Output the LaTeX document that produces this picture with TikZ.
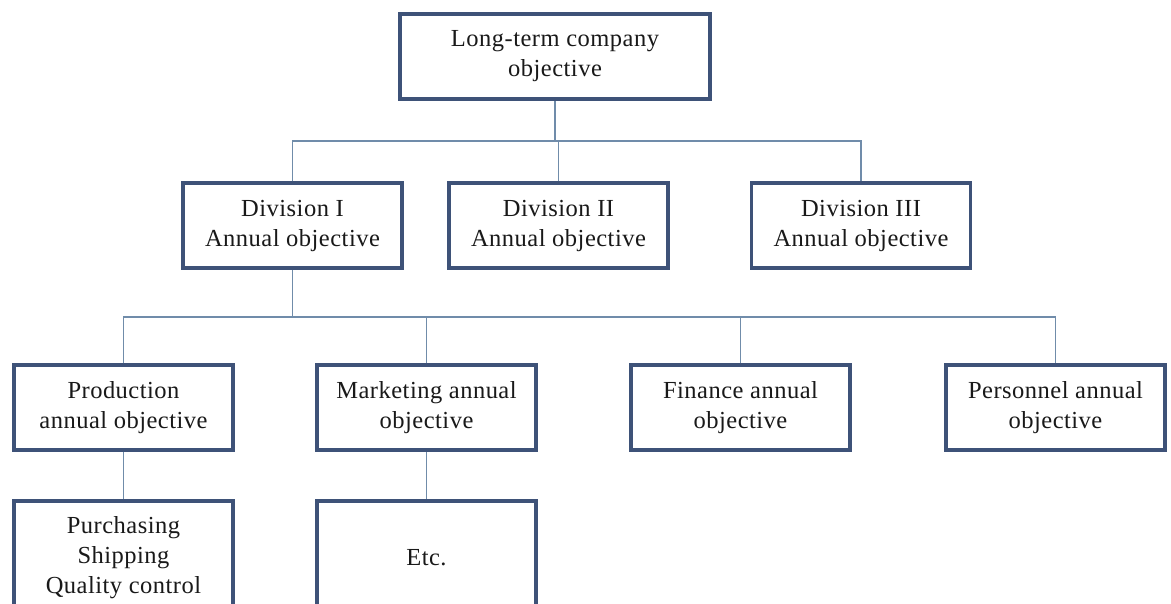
\documentclass[tikz,border=0pt]{standalone}
\usepackage{fontspec}
\setmainfont[LetterSpace=2]{Liberation Serif}
\definecolor{boxline}{RGB}{62,82,120}
\definecolor{linkline}{RGB}{112,140,170}
\definecolor{txt}{RGB}{25,25,25}
\begin{document}
\begin{tikzpicture}[x=1pt,y=-1pt,
  orgbox/.style={draw=boxline, line width=3.5pt, fill=white, text=txt,
    minimum width=219pt, minimum height=85pt, inner sep=0pt, align=center,
    font=\fontsize{24.5}{30}\selectfont},
  link/.style={draw=linkline, line width=1.8pt}]
  \useasboundingbox (0,0) rectangle (1171,603);
  \clip (0,0) rectangle (1171,603);
  \fill[white] (0,0) rectangle (1171,603);

  % top level
  \node[orgbox, minimum width=310pt] (top) at (555,56.5) {Long-term company\\objective};

  % divisions
  \node[orgbox] (d1) at (292.5,225.5) {Division I\\Annual objective};
  \node[orgbox] (d2) at (558.5,225.5) {Division II\\Annual objective};
  \node[orgbox] (d3) at (861,225.5) {Division III\\Annual objective};

  % functional objectives of division I
  \node[orgbox] (prod) at (123.5,407.5) {Production\\annual objective};
  \node[orgbox] (mkt) at (426.5,407.5) {Marketing annual\\objective};
  \node[orgbox] (fin) at (740.5,407.5) {Finance annual\\objective};
  \node[orgbox] (pers) at (1055.5,407.5) {Personnel annual\\objective};

  % departments
  \node[orgbox, minimum height=114pt] (dept) at (123.5,558) {Purchasing\\Shipping\\Quality control};
  \node[orgbox, minimum height=114pt] (etc) at (426.5,558) {Etc.};

  % junction rails
  \coordinate (rail1) at (555,141);
  \coordinate (rail2) at (292.5,317);

  % connectors
  \draw[link] (top.south) -- (rail1);
  \draw[link] (d1.north) -- (d1.north |- rail1) -- (d3.north |- rail1) -- (d3.north);
  \draw[link] (d2.north) -- (d2.north |- rail1);

  \draw[link] (d1.south) -- (rail2);
  \draw[link] (prod.north) -- (prod.north |- rail2) -- (pers.north |- rail2) -- (pers.north);
  \draw[link] (mkt.north) -- (mkt.north |- rail2);
  \draw[link] (fin.north) -- (fin.north |- rail2);

  \draw[link] (prod.south) -- (dept.north);
  \draw[link] (mkt.south) -- (etc.north);
\end{tikzpicture}
\end{document}
